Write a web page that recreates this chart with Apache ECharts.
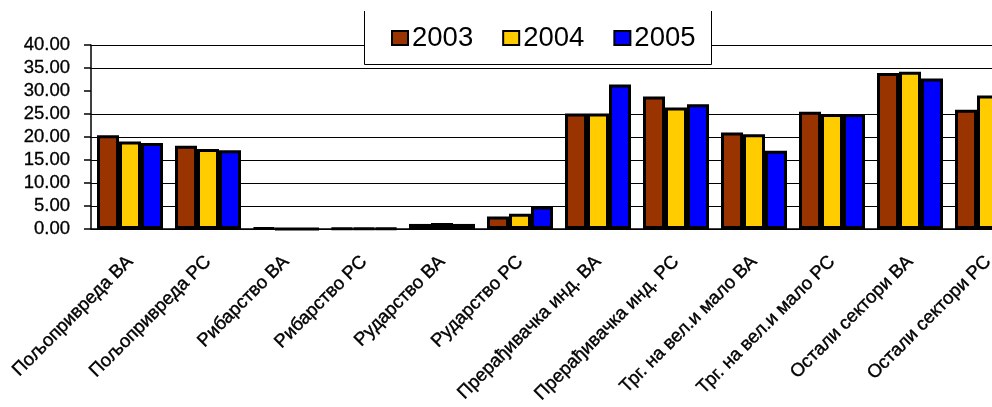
<!DOCTYPE html>
<html>
<head>
<meta charset="utf-8">
<script src="https://cdn.jsdelivr.net/npm/echarts@6/dist/echarts.min.js"></script>
<style>
  html, body { margin: 0; padding: 0; background: #fff; }
  #main { width: 992px; height: 407px; }
</style>
</head>
<body>
<div id="main"></div>
<script>
/* 数据 */
var categories = ['Пољопривреда ВА', 'Пољопривреда РС', 'Рибарство ВА', 'Рибарство РС',
  'Рударство ВА', 'Рударство РС', 'Прерађивачка инд. ВА', 'Прерађивачка инд. РС',
  'Трг. на вел.и мало ВА', 'Трг. на вел.и мало РС', 'Остали сектори ВА', 'Остали сектори РС'];
var years = ['2003', '2004', '2005'];
var v2003 = [20.4, 18.1, 0.2, 0.15, 1.1, 2.7, 25.1, 28.8, 21.0, 25.5, 33.9, 25.9];
var v2004 = [19.0, 17.4, 0, 0.15, 1.3, 3.3, 25.1, 26.4, 20.6, 25.0, 34.2, 29.0];
var v2005 = [18.7, 17.1, 0, 0.15, 1.1, 4.9, 31.4, 27.1, 17.0, 25.0, 32.7, null];
var yTicks = [0, 40, 5]; // min, max, interval

var colors = ['#993300', '#ffcc00', '#0000ff'];
var seriesData = [v2003, v2004, v2005];

var myChart = echarts.init(document.getElementById('main'));

/* 柱状图系列 */
var series = years.map(function (y, i) {
  return {
    name: y,
    type: 'bar',
    data: seriesData[i],
    barWidth: 22,
    barGap: '0%',
    itemStyle: { color: colors[i], borderColor: '#000', borderWidth: 3 }
  };
});

/* 网格线颜色：30 那条线在原图中看不到 */
var gridColors = ['#000', '#000', '#000', '#000', '#000', '#000', 'rgba(0,0,0,0)', '#000', '#000'];

var option = {
  animation: false,
  backgroundColor: '#fff',
  grid: { left: 91, top: 45, bottom: 178, width: 936, outerBoundsMode: 'none', containLabel: false },
  legend: {
    data: years,
    left: 391,
    top: 24,
    padding: 0,
    z: 20,
    itemWidth: 16,
    itemHeight: 14,
    itemGap: 29,
    icon: 'rect',
    itemStyle: { borderColor: '#000', borderWidth: 2 },
    textStyle: { fontSize: 27.5, color: '#000', fontFamily: 'Liberation Sans', padding: [0, 0, 0, -1] }
  },
  graphic: [
    { type: 'rect', z: 10, shape: { x: 364, y: 0, width: 348, height: 64 }, style: { fill: '#fff' } },
    { type: 'polyline', z: 11, shape: { points: [[364.5, 11], [364.5, 64.5], [711.5, 64.5], [711.5, 11]] },
      style: { stroke: '#000', lineWidth: 1, fill: null } }
  ],
  xAxis: {
    type: 'category',
    data: categories,
    axisLine: { lineStyle: { color: '#000', width: 1.5 } },
    axisTick: { lineStyle: { color: '#000', width: 1.5 }, length: 6 },
    axisLabel: {
      interval: 0,
      rotate: 45,
      margin: 30,
      fontSize: 18.5,
      color: '#000',
      fontFamily: 'Liberation Sans',
      textBorderColor: '#000',
      textBorderWidth: 0.4
    }
  },
  yAxis: {
    type: 'value',
    min: yTicks[0],
    max: yTicks[1],
    interval: yTicks[2],
    axisLine: { show: true, lineStyle: { color: '#000', width: 1.5 } },
    axisTick: { show: true, length: 7, lineStyle: { color: '#000', width: 1.5 } },
    splitLine: { lineStyle: { color: gridColors, width: 1 } },
    axisLabel: {
      margin: 21,
      fontSize: 18.5,
      color: '#000',
      fontFamily: 'Liberation Sans',
      textBorderColor: '#000',
      textBorderWidth: 0.3,
      formatter: function (v) { return v.toFixed(2); }
    }
  },
  series: series
};

myChart.setOption(option);
</script>
</body>
</html>
